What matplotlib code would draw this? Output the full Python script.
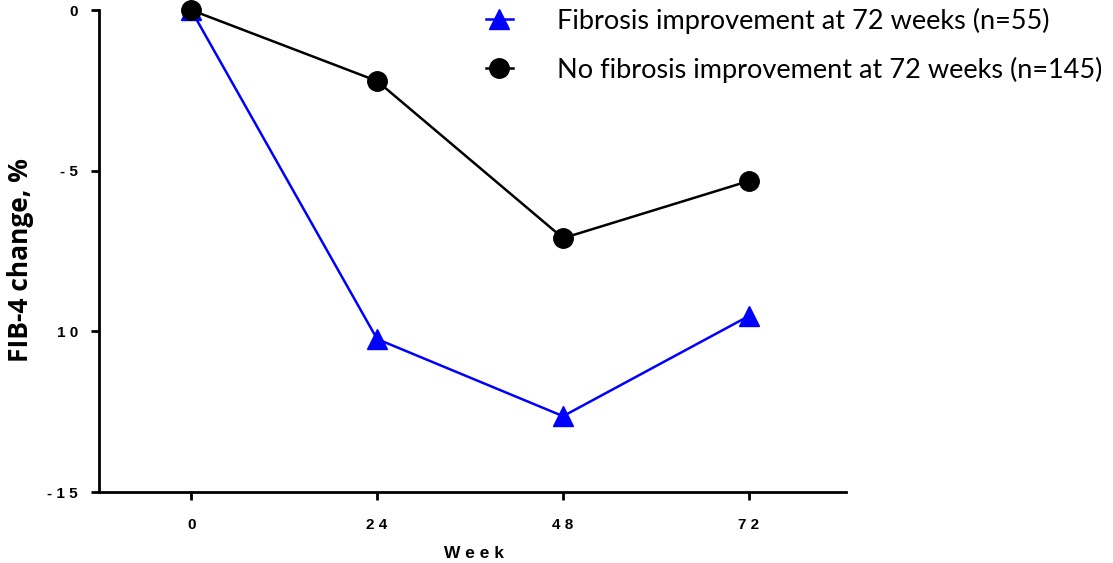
import matplotlib
matplotlib.use("Agg")
import matplotlib.pyplot as plt

weeks = [0, 24, 48, 72]
improved = [0.0, -10.24, -12.64, -9.52]
not_improved = [0.0, -2.21, -7.10, -5.32]

label_improved = "Fibrosis improvement at 72 weeks (n=55)"
label_not_improved = "No fibrosis improvement at 72 weeks (n=145)"

yticks = [0, -5, -10, -15]
ytick_labels = ["0", "- 5", "1 0", "- 1 5"]
xtick_labels = ["0", "2 4", "4 8", "7 2"]

fig = plt.figure(figsize=(11.13, 5.63), dpi=100)
ax = fig.add_axes([0.0889, 0.1261, 0.6711, 0.8561])

ax.plot(weeks, improved, color="#0000ff", lw=1.8, marker="^", ms=14,
        clip_on=False, zorder=3, label=label_improved)
ax.plot(weeks, not_improved, color="black", lw=1.8, marker="o", ms=14,
        clip_on=False, zorder=3, label=label_not_improved)

ax.set_xlim(-11.9, 84.5)
ax.set_ylim(-15, 0)

for s in ["top", "right"]:
    ax.spines[s].set_visible(False)
for s in ["left", "bottom"]:
    ax.spines[s].set_linewidth(2)

ax.set_yticks(yticks)
ax.set_yticklabels(ytick_labels, family="Liberation Sans", fontweight="bold", fontsize=11)
ax.set_xticks(weeks)
ax.set_xticklabels(xtick_labels, family="Liberation Sans", fontweight="bold", fontsize=11)
ax.tick_params(axis="both", width=2, length=6, direction="out")
ax.tick_params(axis="x", pad=13)
ax.tick_params(axis="y", pad=9)

ax.set_xlabel("W e e k", family="Liberation Sans", fontweight="bold", fontsize=12.5, va="center")
ax.xaxis.set_label_coords((474 - 99) / 747, -(553 - 492) / 482)
ax.set_ylabel("FIB-4 change, %", family="Open Sans", fontweight="bold", fontsize=19, va="center")
ax.yaxis.set_label_coords(-(99 - 21) / 747, (492 - 260) / 482)

fig.legend(loc="upper left", bbox_to_anchor=(0.4145, 1.03), frameon=False,
           prop={"family": "Lato", "size": 19.5}, handlelength=1.0, handletextpad=1.65,
           labelspacing=0.85, markerscale=1.0)

fig.savefig("out.png", dpi=100)
